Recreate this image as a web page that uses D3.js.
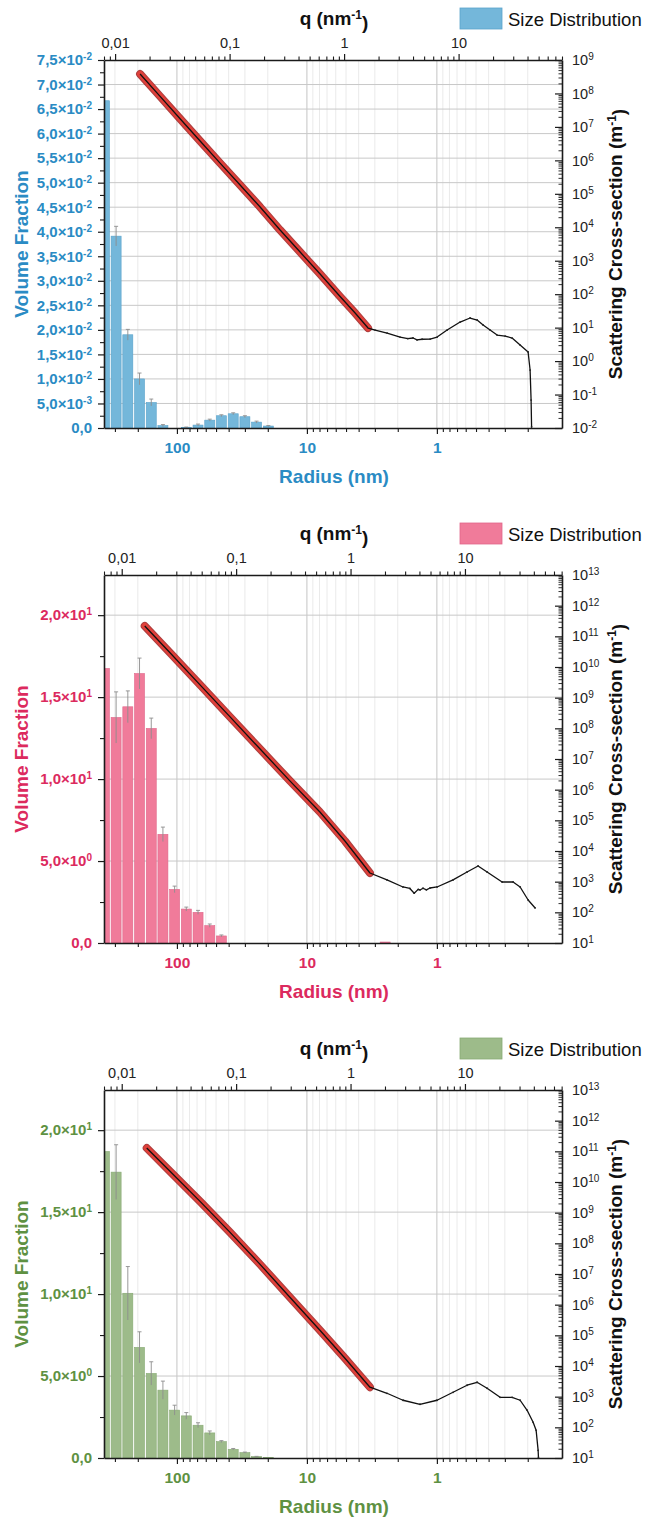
<!DOCTYPE html>
<html><head><meta charset="utf-8">
<script src="https://cdn.jsdelivr.net/npm/d3@7"></script>
<style>
body{margin:0;background:#fff;}
svg text{font-family:"Liberation Sans",Arial,Helvetica,sans-serif;}
</style></head><body>
<svg id="c" width="648" height="1519"></svg>
<script>
// ---------- DATA ----------
// radius bin centres (nm), shared by the three size distributions
const radiusBins = [361, 293.7, 238.7, 194.0, 157.6, 128.2, 104.2, 84.7, 68.8, 55.9, 45.5, 36.9, 30.0, 24.4, 19.8, 16.1, 13.1, 10.7, 8.66, 7.04, 5.72, 4.65, 3.78, 3.07, 2.50];

const volFrac1 = [0.0667, 0.0391, 0.0190, 0.0100, 0.0052, 0.0005, 0, 0.0001, 0.0006, 0.0016, 0.0025, 0.0029, 0.0023, 0.0012, 0.0004, 0, 0, 0, 0, 0, 0, 0, 0, 0, 0];
const volErr1  = [0, 0.0020, 0.0011, 0.0012, 0.0007, 0.0002, 0, 0.0001, 0.0002, 0.0002, 0.0002, 0.0002, 0.0002, 0.0002, 0.0001, 0, 0, 0, 0, 0, 0, 0, 0, 0, 0];

const volFrac2 = [16.75, 13.76, 14.41, 16.44, 13.09, 6.63, 3.27, 2.07, 1.87, 1.06, 0.43, 0, 0, 0, 0, 0, 0, 0, 0, 0, 0, 0, 0, 0, 0.06];
const volErr2  = [0, 1.56, 0.97, 0.94, 0.63, 0.44, 0.20, 0.12, 0.12, 0.10, 0.06, 0, 0, 0, 0, 0, 0, 0, 0, 0, 0, 0, 0, 0, 0];

const volFrac3 = [18.7, 17.44, 10.05, 6.75, 5.16, 4.14, 2.92, 2.57, 2.00, 1.53, 1.00, 0.53, 0.33, 0.09, 0.03, 0, 0, 0, 0, 0, 0, 0, 0, 0, 0];
const volErr3  = [0, 1.67, 1.63, 0.95, 0.71, 0.55, 0.30, 0.20, 0.15, 0.12, 0.06, 0.05, 0.03, 0.01, 0, 0, 0, 0, 0, 0, 0, 0, 0, 0, 0];

// scattering data (q in nm^-1, I in m^-1)
const q1 = [0.01653, 0.02472, 0.03695, 0.05527, 0.0826, 0.1235, 0.1847, 0.2761, 0.4128, 0.6172, 0.9228, 1.248, 1.620, 1.865, 2.375, 3.084, 3.6, 4.0, 4.34, 4.8, 5.64, 6.49, 7.94, 10.31, 12.60, 14.51, 16.37, 18.84, 21.69, 25.48, 29.33, 34.45, 40.46, 42.12, 42.97, 43.4];
const I1 = [3.82e8, 8.2e7, 1.75e7, 3.78e6, 8.3e5, 1.83e5, 4.03e4, 8.27e3, 1.82e3, 400, 85, 27.3, 9.73, 8.47, 6.90, 5.24, 4.7, 4.9, 4.3, 4.5, 4.56, 5.24, 8.47, 14.7, 19.4, 16.9, 11.97, 8.47, 6.01, 5.61, 4.89, 3.02, 1.87, 0.54, 0.0685, 0.0107];
const fitMaxQ1 = 1.62;

const q2 = [0.01589, 0.0263, 0.04813, 0.0881, 0.1612, 0.2950, 0.5398, 0.8933, 1.478, 2.082, 2.873, 3.3, 3.6, 3.9, 4.046, 4.3, 4.6, 4.952, 5.70, 7.87, 10.43, 13.02, 15.61, 21.12, 26.35, 30.35, 35.66, 41.05];
const I2 = [2.17e11, 2.97e10, 2.67e9, 2.40e8, 2.15e7, 1.94e6, 1.87e5, 2.12e4, 1.92e3, 1140, 671, 600, 420, 560, 536, 610, 540, 622, 671, 1140, 2070, 3250, 2070, 977, 977, 671, 253, 139];
const fitMaxQ2 = 1.48;

const q3 = [0.01654, 0.0263, 0.04813, 0.0881, 0.1612, 0.2950, 0.5398, 0.8933, 1.478, 2.082, 2.873, 4.046, 5.70, 7.87, 10.43, 12.76, 15.61, 20.28, 25.83, 30.35, 34.94, 39.43, 41.88, 43.6, 43.9];
const I3 = [1.28e11, 2.27e10, 2.38e9, 2.32e8, 2.10e7, 1.75e6, 1.47e5, 1.79e4, 2.03e3, 1290, 764, 565, 764, 1390, 2360, 2950, 1880, 955, 955, 764, 360, 146, 80, 17.8, 10.5];
const fitMaxQ3 = 1.48;

// axis ticks
const radiusTicks = [100, 10, 1];
const qTicks = [0.01, 0.1, 1, 10];
const leftTicks1 = d3.range(0, 0.0751, 0.005);
const leftTicks23 = [0, 5, 10, 15, 20];

// ---------- LAYOUT ----------
const svg = d3.select('#c');
const L = 104, R = 562, H = 368;

const panels = [
  {top: 60, txt: '#2a8bc4', bar: '#74b7da', barStroke: '#5aa3cb',
   yMax: 0.075, ticks: leftTicks1, minor: 0.0025,
   iDomain: [1e-2, 1e9], qDomain: [0.008, 80],
   vf: volFrac1, err: volErr1, q: q1, I: I1, fitMax: fitMaxQ1},
  {top: 575, txt: '#dc2a5e', bar: '#f07b9a', barStroke: '#e0678a',
   yMax: 22.45, ticks: leftTicks23, minor: 2.5,
   iDomain: [1e1, 1e13], qDomain: [0.007, 70.5],
   vf: volFrac2, err: volErr2, q: q2, I: I2, fitMax: fitMaxQ2},
  {top: 1090, txt: '#5e9142', bar: '#9dbb8a', barStroke: '#88aa74',
   yMax: 22.45, ticks: leftTicks23, minor: 2.5,
   iDomain: [1e1, 1e13], qDomain: [0.007, 70.5],
   vf: volFrac3, err: volErr3, q: q3, I: I3, fitMax: fitMaxQ3}
];

function leftFmt(v){
  if (Math.abs(v) < 1e-12) return {m:'0,0', e:null};
  const e = Math.floor(Math.log10(v) + 1e-9);
  const m = (v / Math.pow(10, e)).toFixed(1).replace('.', ',');
  return {m, e};
}
function supText(sel, base, sup, supSize){
  sel.text(null);
  sel.append('tspan').text(base);
  if (sup !== null && sup !== undefined)
    sel.append('tspan').attr('dy', '-0.5em').attr('font-size', supSize).text(sup);
}
function minorLog(domain){
  const lo = Math.min(...domain), hi = Math.max(...domain);
  const out = [];
  for (let e = Math.floor(Math.log10(lo)) - 1; e <= Math.ceil(Math.log10(hi)); e++)
    for (let k = 2; k <= 9; k++){ const v = k * Math.pow(10, e); if (v >= lo && v <= hi) out.push(v); }
  return out;
}

panels.forEach((p, idx) => {
  const T = p.top, B = T + H;
  const g = svg.append('g');
  const clipId = 'clip' + idx;
  g.append('clipPath').attr('id', clipId).append('rect').attr('x', L).attr('y', T).attr('width', R - L).attr('height', H);

  const xR = d3.scaleLog().domain([364, 0.109]).range([L, R]);
  const xQ = d3.scaleLog().domain(p.qDomain).range([L, R]);
  const yV = d3.scaleLinear().domain([0, p.yMax]).range([B, T]);
  const yI = d3.scaleLog().domain(p.iDomain).range([B, T]);

  // grid
  const grid = g.append('g');
  minorLog(xR.domain()).forEach(v => {
    grid.append('line').attr('x1', xR(v)).attr('x2', xR(v)).attr('y1', T).attr('y2', B)
      .attr('stroke', '#e4e4e4').attr('stroke-width', 0.8);
  });
  radiusTicks.forEach(v => {
    grid.append('line').attr('x1', xR(v)).attr('x2', xR(v)).attr('y1', T).attr('y2', B)
      .attr('stroke', '#c4c4c4').attr('stroke-width', 1);
  });
  p.ticks.filter(v => v > 0 && yV(v) > T + 1).forEach(v => {
    grid.append('line').attr('x1', L).attr('x2', R).attr('y1', yV(v)).attr('y2', yV(v))
      .attr('stroke', '#c8c8c8').attr('stroke-width', 1);
  });

  // bars
  const pitch = Math.log10(radiusBins[0] / radiusBins[1]);
  const half = pitch / 2 * 0.86;
  const bars = g.append('g').attr('clip-path', `url(#${clipId})`);
  radiusBins.forEach((r, i) => {
    const v = p.vf[i];
    if (!(v > 0)) return;
    const x0 = xR(r * Math.pow(10, half)), x1 = xR(r / Math.pow(10, half));
    bars.append('rect').attr('x', x0).attr('y', yV(v)).attr('width', x1 - x0).attr('height', B - yV(v))
      .attr('fill', p.bar).attr('stroke', p.barStroke).attr('stroke-width', 0.6);
  });
  // error bars
  radiusBins.forEach((r, i) => {
    const v = p.vf[i], e = p.err[i];
    if (!(v > 0) || !(e > 0)) return;
    const x = xR(r);
    bars.append('line').attr('x1', x).attr('x2', x).attr('y1', yV(v + e)).attr('y2', yV(Math.max(0, v - e)))
      .attr('stroke', '#8d8d8d').attr('stroke-width', 0.9);
    bars.append('line').attr('x1', x - 2).attr('x2', x + 2).attr('y1', yV(v + e)).attr('y2', yV(v + e))
      .attr('stroke', '#8d8d8d').attr('stroke-width', 0.9);
  });

  // scattering curve
  const pts = p.q.map((q, i) => [q, p.I[i]]);
  const line = d3.line().x(d => xQ(d[0])).y(d => yI(d[1]));
  const curves = g.append('g').attr('clip-path', `url(#${clipId})`);
  const fitPts = pts.filter(d => d[0] <= p.fitMax + 1e-9);
  curves.append('path').attr('d', line(fitPts)).attr('fill', 'none')
    .attr('stroke', '#9e1c1c').attr('stroke-width', 8).attr('stroke-linecap', 'round').attr('stroke-linejoin', 'round').attr('opacity', 0.85);
  curves.append('path').attr('d', line(fitPts)).attr('fill', 'none')
    .attr('stroke', '#e0403a').attr('stroke-width', 6).attr('stroke-linecap', 'round').attr('stroke-linejoin', 'round');
  curves.append('path').attr('d', line(pts)).attr('fill', 'none')
    .attr('stroke', '#111').attr('stroke-width', 1.3).attr('stroke-linejoin', 'round');
  curves.selectAll('circle.pt').data(pts.filter(d => d[0] > p.fitMax)).enter().append('circle')
    .attr('cx', d => xQ(d[0])).attr('cy', d => yI(d[1])).attr('r', 0.9).attr('fill', '#222');

  // axes
  const axStyle = sel => { sel.select('.domain').attr('stroke', '#1a1a1a').attr('stroke-width', 1.6);
    sel.selectAll('.tick line').attr('stroke', '#1a1a1a').attr('stroke-width', 1.2); };

  // left
  const aL = g.append('g').attr('transform', `translate(${L},0)`)
    .call(d3.axisLeft(yV).tickValues(p.ticks).tickSize(6).tickSizeOuter(0).tickPadding(6));
  axStyle(aL);
  aL.selectAll('.tick text').attr('fill', p.txt).attr('font-size', 15).attr('font-weight', 'bold')
    .each(function(d){ const f = leftFmt(d); supText(d3.select(this), f.e === null ? f.m : f.m + '×10', f.e, 10); });
  const minL = d3.range(p.minor, p.yMax, p.minor * 2);
  g.append('g').attr('transform', `translate(${L},0)`)
    .call(d3.axisLeft(yV).tickValues(minL).tickSize(4).tickSizeOuter(0).tickFormat(''))
    .call(s => { s.select('.domain').remove(); s.selectAll('.tick line').attr('stroke', '#1a1a1a').attr('stroke-width', 1.1); });

  // right
  const decades = d3.range(Math.log10(p.iDomain[0]), Math.log10(p.iDomain[1]) + 0.5).map(e => Math.pow(10, e));
  const aR = g.append('g').attr('transform', `translate(${R},0)`)
    .call(d3.axisRight(yI).tickValues(decades).tickSize(-7).tickSizeOuter(0).tickPadding(10));
  axStyle(aR);
  aR.selectAll('.tick text').attr('fill', '#222').attr('font-size', 14.5)
    .each(function(d){ supText(d3.select(this), '10', String(Math.round(Math.log10(d))), 10); });
  g.append('g').attr('transform', `translate(${R},0)`)
    .call(d3.axisRight(yI).tickValues(minorLog(p.iDomain)).tickSize(-3.5).tickSizeOuter(0).tickFormat(''))
    .call(s => { s.select('.domain').remove(); s.selectAll('.tick line').attr('stroke', '#1a1a1a').attr('stroke-width', 0.9); });

  // bottom
  const aB = g.append('g').attr('transform', `translate(0,${B})`)
    .call(d3.axisBottom(xR).tickValues(radiusTicks).tickSize(6).tickSizeOuter(0).tickPadding(8).tickFormat(d3.format('d')));
  axStyle(aB);
  aB.selectAll('.tick text').attr('fill', p.txt).attr('font-size', 15.5).attr('font-weight', 'bold');
  g.append('g').attr('transform', `translate(0,${B})`)
    .call(d3.axisBottom(xR).tickValues(minorLog(xR.domain())).tickSize(4).tickSizeOuter(0).tickFormat(''))
    .call(s => { s.select('.domain').remove(); s.selectAll('.tick line').attr('stroke', '#1a1a1a').attr('stroke-width', 1.1); });

  // top
  const aT = g.append('g').attr('transform', `translate(0,${T})`)
    .call(d3.axisTop(xQ).tickValues(qTicks).tickSize(6).tickSizeOuter(0).tickPadding(6)
      .tickFormat(d => String(d).replace('.', ',')));
  axStyle(aT);
  aT.selectAll('.tick text').attr('fill', '#222').attr('font-size', 14.5);
  g.append('g').attr('transform', `translate(0,${T})`)
    .call(d3.axisTop(xQ).tickValues(minorLog(p.qDomain)).tickSize(3.5).tickSizeOuter(0).tickFormat(''))
    .call(s => { s.select('.domain').remove(); s.selectAll('.tick line').attr('stroke', '#1a1a1a').attr('stroke-width', 1.1); });

  // titles
  const cx = (L + R) / 2 + 1, cy = (T + B) / 2;
  const tq = g.append('text').attr('x', cx).attr('y', T - 35).attr('text-anchor', 'middle')
    .attr('font-size', 19).attr('font-weight', 'bold').attr('fill', '#111');
  tq.append('tspan').text('q (nm');
  tq.append('tspan').attr('dy', '-0.5em').attr('font-size', 12).text('-1');
  tq.append('tspan').attr('dy', '0.5em').text(')');

  g.append('text').attr('x', cx).attr('y', B + 55).attr('text-anchor', 'middle')
    .attr('font-size', 19).attr('font-weight', 'bold').attr('fill', p.txt).text('Radius (nm)');

  g.append('text').attr('transform', `translate(21,${cy}) rotate(-90)`).attr('text-anchor', 'middle').attr('dy', '0.35em')
    .attr('font-size', 19).attr('font-weight', 'bold').attr('fill', p.txt).text('Volume Fraction');

  const tr = g.append('text').attr('transform', `translate(615,${cy}) rotate(-90)`).attr('text-anchor', 'middle').attr('dy', '0.35em')
    .attr('font-size', 19).attr('font-weight', 'bold').attr('fill', '#111');
  tr.append('tspan').text('Scattering Cross-section (m');
  tr.append('tspan').attr('dy', '-0.5em').attr('font-size', 12).text('-1');
  tr.append('tspan').attr('dy', '0.5em').text(')');

  // legend
  g.append('rect').attr('x', 460).attr('y', T - 52).attr('width', 42).attr('height', 21)
    .attr('fill', p.bar).attr('stroke', p.barStroke).attr('stroke-width', 0.8);
  g.append('text').attr('x', 508).attr('y', T - 34).attr('font-size', 18.5).attr('fill', '#111').text('Size Distribution');
});
</script>
</body></html>
